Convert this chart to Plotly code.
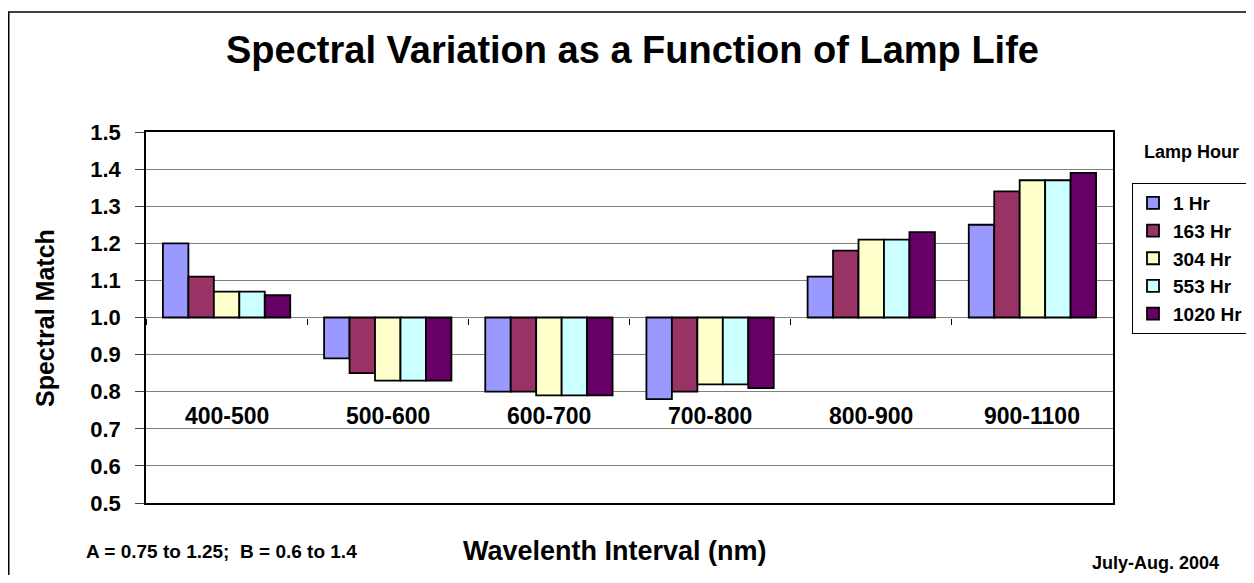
import plotly.graph_objects as go

categories = ["400-500", "500-600", "600-700", "700-800", "800-900", "900-1100"]
series_names = ["1 Hr", "163 Hr", "304 Hr", "553 Hr", "1020 Hr"]
hr_1 = [1.20, 0.89, 0.80, 0.78, 1.11, 1.25]
hr_163 = [1.11, 0.85, 0.80, 0.80, 1.18, 1.34]
hr_304 = [1.07, 0.83, 0.79, 0.82, 1.21, 1.37]
hr_553 = [1.07, 0.83, 0.79, 0.82, 1.21, 1.37]
hr_1020 = [1.06, 0.83, 0.79, 0.81, 1.23, 1.39]
series_values = [hr_1, hr_163, hr_304, hr_553, hr_1020]
colors = ["#9999FF", "#993366", "#FFFFCC", "#CCFFFF", "#660066"]
baseline = 1.0
y_ticks = [0.5, 0.6, 0.7, 0.8, 0.9, 1.0, 1.1, 1.2, 1.3, 1.4, 1.5]

FONT = "Liberation Sans, Arial, sans-serif"
OFF = 8  # default page body margin
W, H = 1246, 567
L, R, T, B = 138, 141, 124, 72
pw, ph = W - L - R, H - T - B

def px_x(x):
    # page pixel -> paper fraction
    return (x - OFF - L) / pw

def px_y(y):
    return (H - B - (y - OFF)) / ph

fig = go.Figure()
for name, vals, col in zip(series_names, series_values, colors):
    fig.add_trace(go.Bar(
        name="<b>%s</b>" % name, x=categories, y=[v - baseline for v in vals], base=baseline,
        marker=dict(color=col, line=dict(color="black", width=1.8)),
        customdata=vals, hovertemplate="%{x}: %{customdata}<extra>" + name + "</extra>",
    ))

# category labels
for c in categories:
    fig.add_annotation(x=c, y=0.735, xref="x", yref="y", text="<b>%s</b>" % c,
                       showarrow=False, font=dict(family=FONT, size=23, color="black"))

def note(text, x, y, size, **kw):
    fig.add_annotation(x=px_x(x), y=px_y(y), xref="paper", yref="paper", text="<b>%s</b>" % text,
                       showarrow=False, font=dict(family=FONT, size=size, color="black"),
                       xanchor="center", yanchor="middle", **kw)

note("Spectral Variation as a Function of Lamp Life", 632, 50, 38)
note("Spectral Match", 45, 318, 25, textangle=-90)
note("Wavelenth Interval (nm)", 615, 551, 27)
note("A = 0.75 to 1.25;  B = 0.6 to 1.4", 221, 551, 19)
note("July-Aug. 2004", 1155, 563, 18)
note("Lamp Hour", 1191, 152, 18)

# outer chart border
fig.add_shape(type="rect", xref="paper", yref="paper", x0=px_x(8.75), y0=px_y(700), x1=px_x(1400), y1=px_y(12),
              line=dict(color="black", width=1.5), fillcolor="rgba(0,0,0,0)", layer="below")

fig.update_layout(
    width=W, height=H, margin=dict(l=L, r=R, t=T, b=B, autoexpand=False),
    paper_bgcolor="white", plot_bgcolor="white",
    barmode="group", bargap=0.21, bargroupgap=0,
    showlegend=True,
    legend=dict(x=px_x(1132), y=px_y(183), xanchor="left", yanchor="top",
                bordercolor="black", borderwidth=1, bgcolor="white",
                font=dict(family=FONT, size=19, color="black"), tracegroupgap=0,
                itemwidth=30),
    font=dict(family=FONT, color="black"),
    xaxis=dict(type="category", showticklabels=False, ticks="outside", tickson="boundaries",
               ticklen=6, tickcolor="black", showgrid=False, showline=False,
               anchor="free", position=0.5, range=[-0.5, 5.5]),
    yaxis=dict(range=[0.5, 1.5], tickvals=y_ticks, ticktext=["<b>%.1f</b>" % v for v in y_ticks],
               ticks="outside", ticklen=9, tickcolor="#444", ticklabelstandoff=10,
               tickfont=dict(family=FONT, size=22, color="black"),
               showgrid=True, gridcolor="#808080", gridwidth=1, zeroline=False,
               showline=True, linecolor="black", linewidth=1.5, mirror=True),
    xaxis2=dict(overlaying="x", showticklabels=False, showline=True, linecolor="black", linewidth=1.5,
                mirror=True, anchor="y", range=[0, 1], showgrid=False, zeroline=False),
)
fig.add_trace(go.Scatter(x=[None], y=[None], xaxis="x2", showlegend=False, hoverinfo="skip"))
fig.write_html("out.html")
